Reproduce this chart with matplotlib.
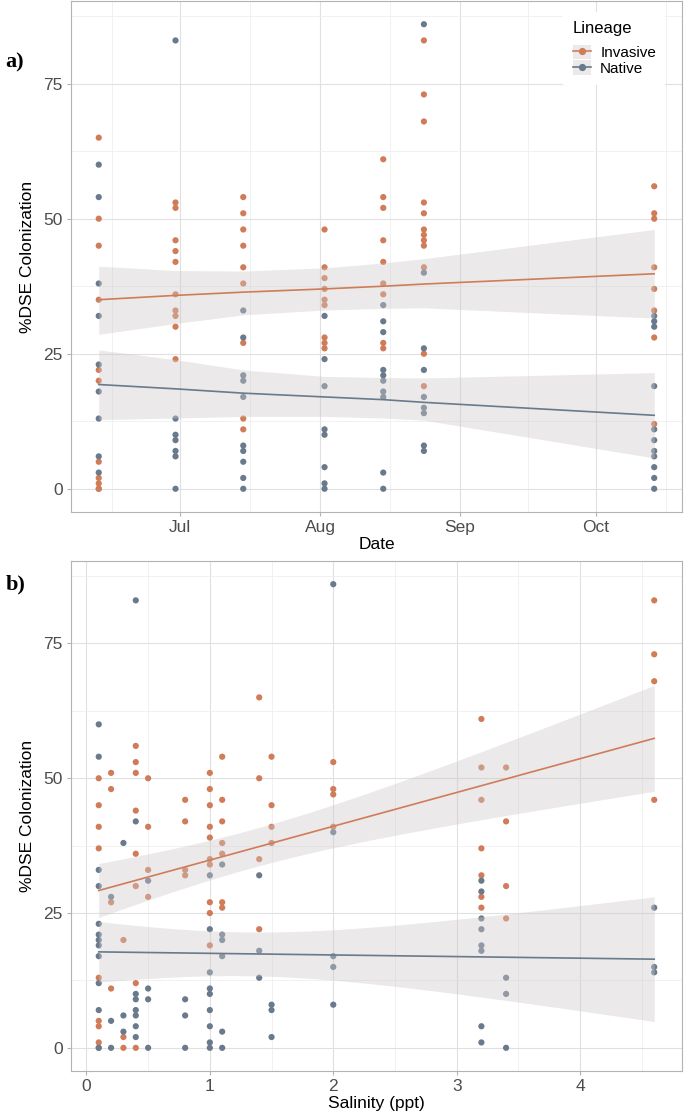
import numpy as np
import matplotlib
matplotlib.use("Agg")
import matplotlib.pyplot as plt
import matplotlib.dates as mdates
from matplotlib.lines import Line2D
from matplotlib.patches import Patch
import datetime as dt

plt.rcParams['font.family'] = ['Liberation Sans', 'DejaVu Sans']

# --- data, panel a: %DSE colonization by sampling date ---
dates = ['2019-06-13', '2019-06-30', '2019-07-15', '2019-08-02',
         '2019-08-15', '2019-08-24', '2019-10-14']
inv_by_date = [
    [65, 50, 45, 35, 22, 20, 5, 2, 1, 0, 0],
    [53, 52, 46, 44, 42, 36, 33, 32, 30, 24],
    [54, 51, 48, 45, 41, 38, 27, 13, 11],
    [48, 41, 39, 37, 35, 34, 28, 27, 26],
    [61, 54, 52, 46, 42, 38, 36, 27, 26],
    [83, 73, 68, 53, 51, 48, 47, 46, 45, 41, 25, 19],
    [56, 51, 50, 41, 37, 33, 28, 12],
]
nat_by_date = [
    [60, 54, 38, 32, 23, 18, 13, 6, 3],
    [83, 13, 10, 9, 7, 6, 0],
    [33, 28, 21, 20, 17, 8, 7, 5, 2, 0],
    [32, 24, 19, 11, 10, 4, 1, 0],
    [34, 31, 29, 22, 21, 20, 18, 17, 3, 0],
    [86, 40, 26, 22, 17, 15, 14, 8, 7],
    [32, 31, 30, 19, 11, 9, 7, 6, 4, 2, 0],
]
# model fit and 95% band, at each date
inv_fit_date = [35.0, 35.8, 36.4, 37.0, 37.5, 37.9, 39.8]
inv_lo_date = [28.6, 30.6, 32.2, 33.1, 33.4, 33.5, 31.6]
inv_hi_date = [41.2, 40.4, 40.3, 40.9, 41.8, 42.6, 48.0]
nat_fit_date = [19.3, 18.5, 17.7, 17.0, 16.5, 16.0, 13.6]
nat_lo_date = [12.8, 13.1, 13.4, 13.4, 13.1, 12.7, 5.7]
nat_hi_date = [25.7, 23.9, 22.0, 20.8, 20.6, 20.5, 21.5]

# --- data, panel b: %DSE colonization by salinity ---
salinity = [0.1, 0.2, 0.3, 0.4, 0.5, 0.8, 1.0, 1.1, 1.4, 1.5, 2.0, 3.2, 3.4, 4.6]
inv_by_sal = [
    [50, 45, 41, 37, 13, 5, 4, 1, 0],
    [51, 48, 27, 11],
    [20, 2, 0],
    [56, 53, 51, 44, 36, 30, 12, 0],
    [50, 41, 33, 28],
    [46, 42, 33, 32],
    [51, 48, 45, 41, 39, 35, 34, 27, 25, 19],
    [54, 46, 42, 38, 36, 27, 26],
    [65, 50, 35, 22],
    [54, 45, 41, 38],
    [53, 48, 47, 41],
    [61, 52, 46, 37, 32, 28, 26],
    [52, 42, 30, 24],
    [83, 73, 68, 46],
]
nat_by_sal = [
    [60, 54, 33, 30, 23, 21, 20, 19, 17, 12, 7, 0],
    [28, 5, 0],
    [38, 6, 3],
    [83, 42, 10, 9, 7, 6, 4, 2],
    [31, 11, 9, 0],
    [9, 6, 0],
    [32, 22, 14, 11, 10, 7, 4, 1, 0],
    [34, 21, 20, 17, 3, 0],
    [32, 18, 13],
    [8, 7, 2],
    [86, 40, 17, 15, 8],
    [31, 29, 24, 22, 19, 18, 4, 1],
    [13, 10, 0],
    [26, 15, 14],
]

lineages = ['Invasive', 'Native']
colors = {'Invasive': '#D07C58', 'Native': '#687A8C'}
ribbon_col = '#CDC8CA'


def flatten(xs, groups):
    x, y = [], []
    for xi, g in zip(xs, groups):
        x += [xi] * len(g)
        y += list(g)
    return np.array(x, float), np.array(y, float)


def t975(df):
    # Cornish-Fisher approximation of the 97.5% t quantile
    z = 1.959964
    return z + (z**3 + z) / (4 * df) + (5 * z**5 + 16 * z**3 + 3 * z) / (96 * df**2)


def lm_ci(x, y, n=80):
    b1, b0 = np.polyfit(x, y, 1)
    xs = np.linspace(x.min(), x.max(), n)
    fit = b0 + b1 * xs
    resid = y - (b0 + b1 * x)
    nn = len(x)
    s = np.sqrt(np.sum(resid**2) / (nn - 2))
    se = s * np.sqrt(1 / nn + (xs - x.mean())**2 / np.sum((x - x.mean())**2))
    t = t975(nn - 2)
    return xs, fit, fit - t * se, fit + t * se


def style_axes(ax):
    ax.set_facecolor('white')
    for sp in ax.spines.values():
        sp.set_color('#B3B3B3')
        sp.set_linewidth(0.8)
    ax.grid(which='major', color='#E0E0E0', lw=0.8)
    ax.grid(which='minor', color='#EFEFEF', lw=0.6)
    ax.set_axisbelow(True)
    ax.tick_params(which='major', length=3, color='#B3B3B3', labelsize=12.5,
                   labelcolor='#4D4D4D', pad=3)
    ax.tick_params(which='minor', length=0)
    ax.set_ylim(-4.3, 90.3)
    ax.set_yticks([0, 25, 50, 75])
    ax.set_yticks([12.5, 37.5, 62.5, 87.5], minor=True)
    ax.set_ylabel('%DSE Colonization', fontsize=12.5, labelpad=6)


def draw_points(ax, xs, inv_groups, nat_groups):
    for lin, groups in zip(lineages, [inv_groups, nat_groups]):
        x, y = flatten(xs, groups)
        ax.scatter(x, y, s=20, color=colors[lin], edgecolors='none', zorder=2)


def draw_band(ax, x, fit, lo, hi, lin):
    ax.fill_between(x, lo, hi, color=ribbon_col, alpha=0.4, lw=0, zorder=3)
    ax.plot(x, fit, color=colors[lin], lw=1.2, zorder=4)


fig = plt.figure(figsize=(6.85, 11.14), dpi=100)
ax1 = fig.add_axes([0.1036, 0.5404, 0.892, 0.4587])
ax2 = fig.add_axes([0.1036, 0.0386, 0.892, 0.4578])

# panel a
date_num = [mdates.date2num(dt.date.fromisoformat(d)) for d in dates]
style_axes(ax1)
draw_points(ax1, date_num, inv_by_date, nat_by_date)
draw_band(ax1, date_num, inv_fit_date, inv_lo_date, inv_hi_date, 'Invasive')
draw_band(ax1, date_num, nat_fit_date, nat_lo_date, nat_hi_date, 'Native')
span = max(date_num) - min(date_num)
ax1.set_xlim(min(date_num) - 0.05 * span, max(date_num) + 0.05 * span)
months = [mdates.date2num(dt.date(2019, m, 1)) for m in range(6, 12)]
ax1.set_xticks(months[1:5])
ax1.set_xticklabels(['Jul', 'Aug', 'Sep', 'Oct'])
ax1.set_xticks([(a + b) / 2 for a, b in zip(months[:-1], months[1:])], minor=True)
ax1.set_xlabel('Date', fontsize=12.5, labelpad=1)

handles = [(Patch(facecolor='#EBE9EA', edgecolor='none'),
            Line2D([0], [0], color=colors[l], lw=1.2, marker='o', ms=4.2))
           for l in lineages]
leg = ax1.legend(handles, lineages, title='Lineage', loc='upper right',
                 bbox_to_anchor=(0.985, 0.993), frameon=True, fontsize=11,
                 title_fontsize=12, handlelength=1.2, handleheight=1.1,
                 handletextpad=0.6, labelspacing=0.0, borderpad=0.6,
                 alignment='left', fancybox=False)
leg.get_frame().set_edgecolor('none')
leg.get_frame().set_facecolor('white')
leg.get_frame().set_alpha(1)
leg._legend_box.sep = 6

# panel b
style_axes(ax2)
draw_points(ax2, salinity, inv_by_sal, nat_by_sal)
for lin, groups in zip(lineages, [inv_by_sal, nat_by_sal]):
    x, y = flatten(salinity, groups)
    gx, fit, lo, hi = lm_ci(x, y)
    draw_band(ax2, gx, fit, lo, hi, lin)
sspan = max(salinity) - min(salinity)
ax2.set_xlim(min(salinity) - 0.05 * sspan, max(salinity) + 0.05 * sspan)
ax2.set_xticks([0, 1, 2, 3, 4])
ax2.set_xticks([0.5, 1.5, 2.5, 3.5, 4.5], minor=True)
ax2.set_xlabel('Salinity (ppt)', fontsize=12.5, labelpad=1)

fig.text(0.008, 0.944, 'a)', fontsize=16, fontweight='bold',
         family='Liberation Serif', va='center', ha='left')
fig.text(0.008, 0.475, 'b)', fontsize=16, fontweight='bold',
         family='Liberation Serif', va='center', ha='left')

fig.savefig('out.png', dpi=100)
